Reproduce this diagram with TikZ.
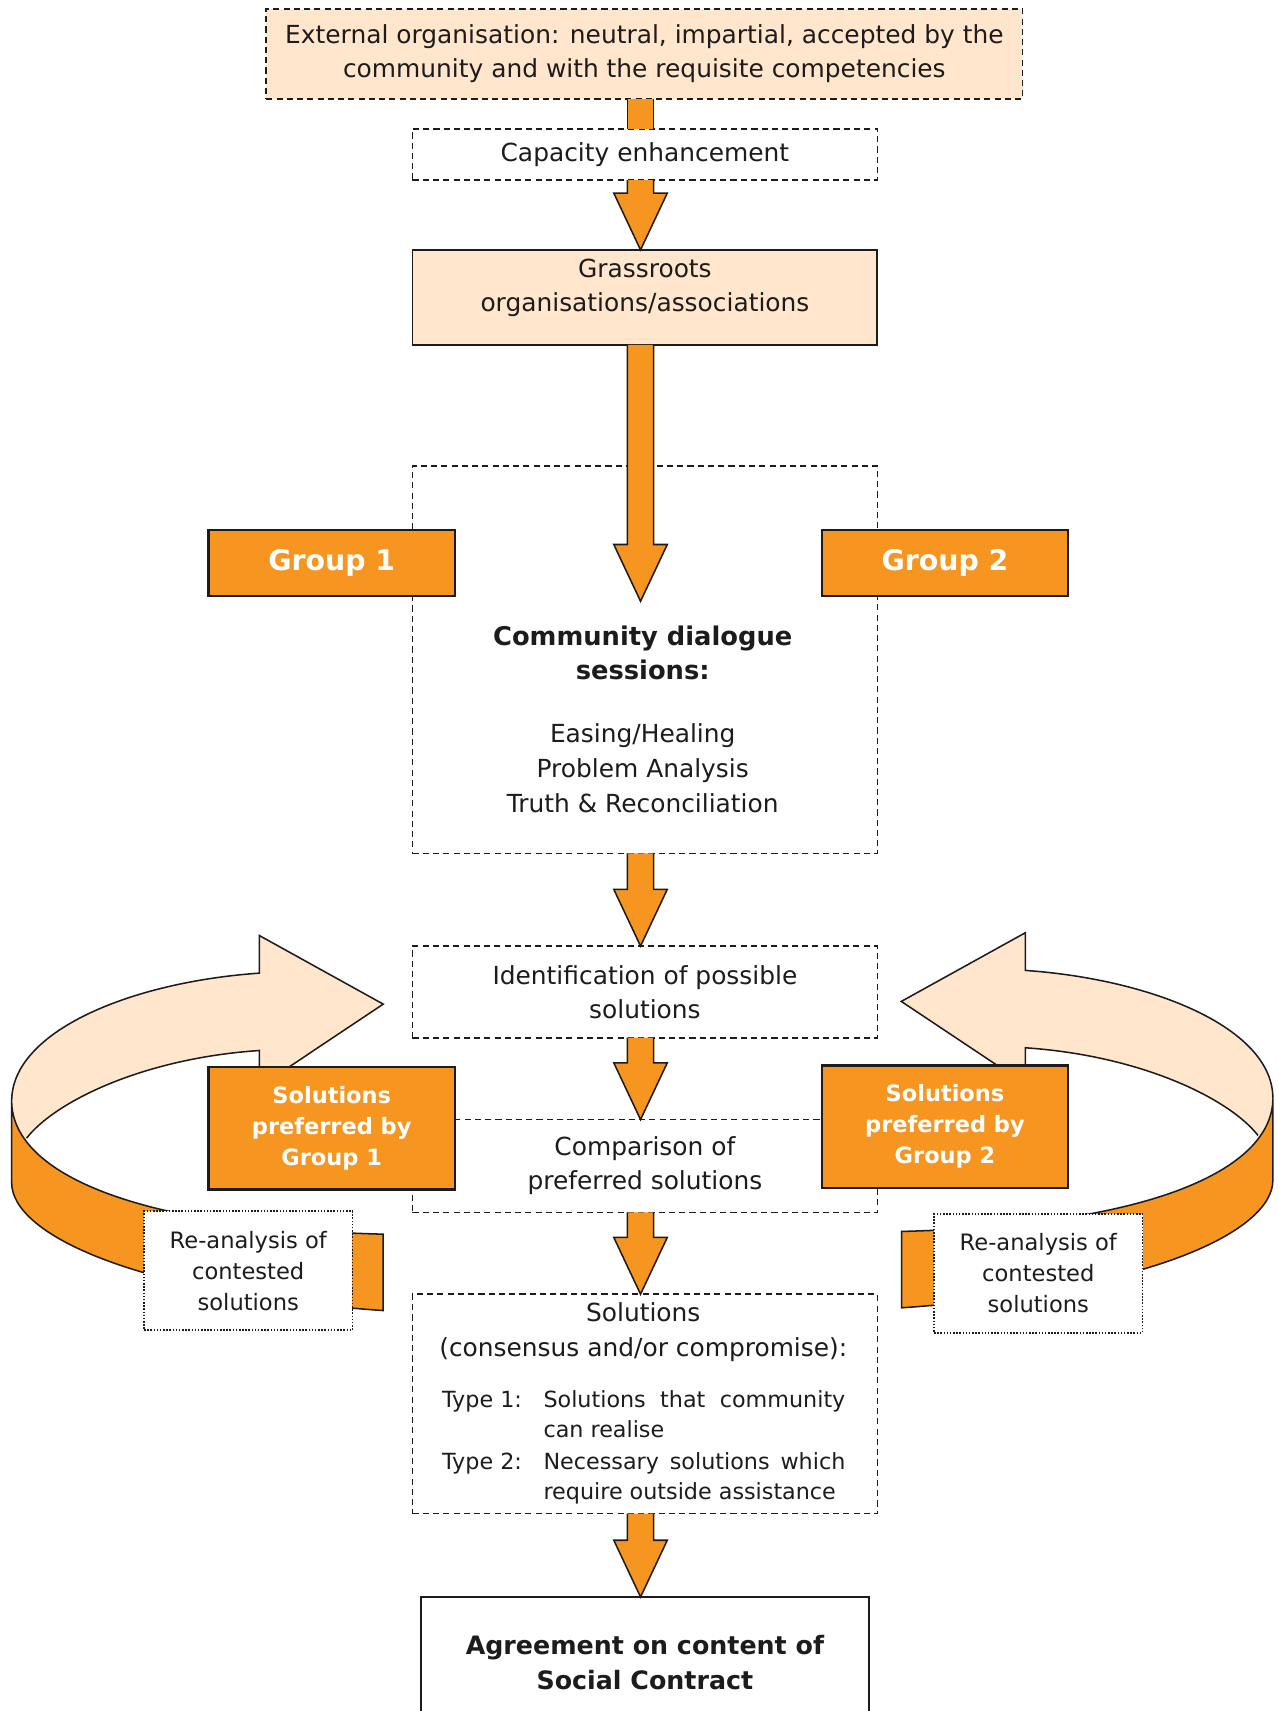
\documentclass[tikz,border=0pt]{standalone}
\usepackage{fontspec}
\setmainfont{DejaVu Sans}
\usetikzlibrary{calc}

\definecolor{orangeA}{RGB}{246,150,33}
\definecolor{peach}{RGB}{255,230,204}
\definecolor{ink}{RGB}{30,27,28}

% loop-shaped ribbon arrow (left-hand version, mirrored for the right side)
\newcommand\loopribbon{%
  \fill[peach] (10.7,1009) .. controls (10.7,945) and (120,900) .. (237.6,891.8)
     -- (237.6,857.3) -- (351.2,920.2) -- (237.6,996) -- (237.6,962.7)
     .. controls (130,970) and (50,1010) .. (24.4,1043) -- (10.7,1060) -- cycle;
  \draw[ribbonline] (10.7,1009) .. controls (10.7,945) and (120,900) .. (237.6,891.8)
     -- (237.6,857.3) -- (351.2,920.2) -- (237.6,996) -- (237.6,962.7)
     .. controls (130,970) and (50,1010) .. (24.4,1043);
  \filldraw[ribbonline, fill=orangeA] (10.7,1009) .. controls (10.7,1070) and (110,1125) .. (351,1131)
     -- (351,1201) .. controls (120,1185) and (10.7,1130) .. (10.7,1084) -- cycle;
}

% vertical block arrow along the main axis, from point #1 to tip #2
\newcommand\blockarrow[2]{%
  \fill[orangeA] let \p1=#1, \p2=#2, \p3=(axis) in
    (\x3-6pt,\y1) -- (\x3-6pt,\y2+26pt) -- (\x3-12.25pt,\y2+26pt) -- (\x3,\y2)
    -- (\x3+12.25pt,\y2+26pt) -- (\x3+6pt,\y2+26pt) -- (\x3+6pt,\y1) -- cycle;
  \draw[ribbonline, line join=miter] let \p1=#1, \p2=#2, \p3=(axis) in
    (\x3-6pt,\y1) -- (\x3-6pt,\y2+26pt) -- (\x3-12.25pt,\y2+26pt) -- (\x3,\y2)
    -- (\x3+12.25pt,\y2+26pt) -- (\x3+6pt,\y2+26pt) -- (\x3+6pt,\y1);
}

% plain shaft without head
\newcommand\blockstub[2]{%
  \fill[orangeA] let \p1=#1, \p2=#2, \p3=(axis) in
    (\x3-6pt,\y1) rectangle (\x3+6pt,\y2);
  \draw[ribbonline] let \p1=#1, \p2=#2, \p3=(axis) in
    (\x3-6pt,\y1) -- (\x3-6pt,\y2) (\x3+6pt,\y1) -- (\x3+6pt,\y2);
}

\begin{document}
\begin{tikzpicture}[x=0.5pt, y=-0.5pt,
  ribbonline/.style={draw=ink, line width=0.7pt},
  txt/.style={inner sep=0pt, outer sep=0pt, text=ink, align=center,
    font=\fontsize{11.4}{15.5}\selectfont},
  dashbox/.style={txt, draw=ink, line width=0.75pt, dash pattern=on 2.8pt off 1.9pt, fill=white},
  solidbox/.style={txt, draw=ink, line width=0.85pt, fill=white},
  groupbox/.style={txt, draw=ink, line width=1pt, fill=orangeA, text=white,
    font=\fontsize{13}{16}\selectfont\bfseries, minimum width=113pt},
  prefbox/.style={groupbox, font=\fontsize{10.3}{14.25}\selectfont\bfseries, minimum height=56pt},
  dotbox/.style={txt, draw=ink, line width=0.7pt, dash pattern=on 0.7pt off 0.75pt, fill=white,
    font=\fontsize{10.35}{14.25}\selectfont, minimum width=95.5pt, minimum height=54.5pt},
  headtext/.style={txt, font=\fontsize{11.8}{15.5}\selectfont\bfseries},
]
\useasboundingbox (0,0) rectangle (1171,1568);
\fill[white] (0,0) rectangle (1171,1568);
\coordinate (axis) at (587,0);
\coordinate (dtip) at (587,551);

% loop arrows for re-analysis
\begin{scope}
  \loopribbon
\end{scope}
\begin{scope}[xshift=588.6pt, xscale=-1, yshift=1.25pt]
  \loopribbon
\end{scope}

% main column
\node[dashbox, fill=peach, minimum width=346.5pt, minimum height=41.5pt] (ext) at (590.5,49.5)
  {External organisation: neutral, impartial, accepted by the\\community and with the requisite competencies};
\node[dashbox, minimum width=213pt, minimum height=23.5pt] (cap) at (591,141.5) {Capacity enhancement};
\node[solidbox, fill=peach, minimum width=213pt, minimum height=43.5pt] (grass) at (591,272.5) {};
\node[txt] (grasstext) at (591,264) {Grassroots\\organisations/associations};

\node[dashbox, minimum width=213pt, minimum height=177.5pt] (dialog) at (591,604.5) {};
\node[headtext] (dialoghead) at (589,598.5) {Community dialogue\\sessions:};
\node[txt, font=\fontsize{11.4}{16}\selectfont] (dialogitems) at (589,704)
  {Easing/Healing\\Problem Analysis\\Truth \& Reconciliation};

\node[dashbox, minimum width=213pt, minimum height=42pt] (ident) at (591,909)
  {Identification of possible\\solutions};
\node[dashbox, minimum width=213pt, minimum height=42.5pt] (comp) at (591,1068.5)
  {Comparison of\\preferred solutions};

\node[dashbox, minimum width=213pt, minimum height=100.5pt] (sols) at (591,1286.5) {};
\node[txt, font=\fontsize{11.4}{16}\selectfont] (solshead) at (589.5,1221)
  {Solutions\\(consensus and/or compromise):};
\node[inner sep=0pt, text=ink, anchor=base west, font=\fontsize{10.2}{13.8}\selectfont] (types) at (404.7,1290)
  {\begin{tabular}[t]{@{}p{46.5pt}@{}p{138.3pt}@{}}
   Type 1: & Solutions that community\linebreak can realise\\[0.9pt]
   Type 2: & Necessary solutions which\linebreak require outside assistance
   \end{tabular}};

\node[solidbox, minimum width=205pt, minimum height=60pt, anchor=north,
  font=\fontsize{11.6}{16}\selectfont\bfseries] (agree) at (591,1463.5)
  {Agreement on content of\\Social Contract};

% block arrows between the stages
\blockstub{(ext.south)}{(cap.north)}
\blockarrow{(cap.south)}{(grass.north)}
\blockarrow{(grass.south)}{(dtip)}
\blockarrow{(dialog.south)}{(ident.north)}
\blockarrow{(ident.south)}{(comp.north)}
\blockarrow{(comp.south)}{(sols.north)}
\blockarrow{(sols.south)}{(agree.north)}

% groups
\node[groupbox, minimum height=30pt] (g1) at (304,516) {Group 1};
\node[groupbox, minimum height=30pt] (g2) at (866,516) {Group 2};
\node[prefbox] (p1) at (304,1034) {Solutions\\preferred by\\Group 1};
\node[prefbox] (p2) at (866,1032.5) {Solutions\\preferred by\\Group 2};

% re-analysis labels
\node[dotbox] (r1) at (227.5,1164.5) {Re-analysis of\\contested\\solutions};
\node[dotbox] (r2) at (951.5,1167) {Re-analysis of\\contested\\solutions};
\end{tikzpicture}
\end{document}
